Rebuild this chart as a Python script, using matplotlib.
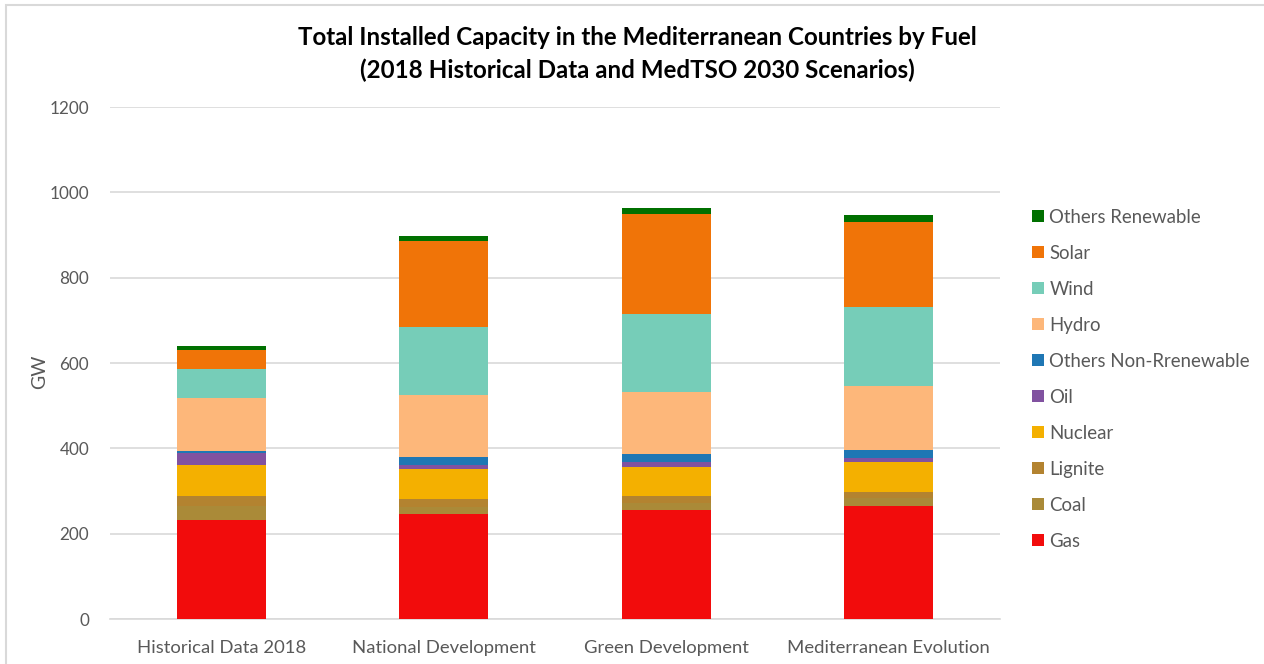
import matplotlib
matplotlib.use("Agg")
import matplotlib.pyplot as plt
from matplotlib.patches import Rectangle
import numpy as np

plt.rcParams['font.family'] = ['Lato', 'DejaVu Sans']

categories = ["Historical Data 2018", "National Development",
              "Green Development", "Mediterranean Evolution"]

# Stacked from the bottom up (GW)
gas = [233, 247, 256, 265]
coal = [33, 16, 16, 18]
lignite = [23, 18, 16, 15]
nuclear = [72, 70, 68, 69]
oil = [27, 9, 11, 10]
others_nonren = [5, 20, 19, 19]
hydro = [125, 145, 145, 150]
wind = [67, 160, 183, 186]
solar = [46, 200, 235, 199]
others_ren = [8, 12, 15, 15]

series = [
    ("Gas", gas, "#F20C0C"),
    ("Coal", coal, "#AA8A38"),
    ("Lignite", lignite, "#B38330"),
    ("Nuclear", nuclear, "#F4B000"),
    ("Oil", oil, "#8152A0"),
    ("Others Non-Rrenewable", others_nonren, "#1F77B4"),
    ("Hydro", hydro, "#FDB77A"),
    ("Wind", wind, "#76CDB8"),
    ("Solar", solar, "#F07408"),
    ("Others Renewable", others_ren, "#007000"),
]

fig = plt.figure(figsize=(12.64, 6.64), dpi=100)
fig.patches.append(Rectangle((6 / 1264, -0.2), 1.5, 1.2 - 5 / 664,
                             transform=fig.transFigure, fill=False,
                             edgecolor="#D9D9D9", linewidth=1.5))

ax = fig.add_axes([110 / 1264, 1 - 619 / 664, 890 / 1264, 512 / 664])
x = np.arange(len(categories))
bottom = np.zeros(len(categories))
handles = []
for name, vals, col in series:
    b = ax.bar(x, vals, width=0.4, bottom=bottom, color=col, label=name,
               edgecolor="none", zorder=3)
    bottom += np.array(vals)
    handles.append(b)

ax.set_xlim(-0.5, 3.5)
ax.set_ylim(0, 1200)
ax.set_yticks(range(0, 1201, 200))
ax.set_xticks(x)
ax.set_xticklabels(categories)
ax.tick_params(axis="both", length=0, colors="#595959")
ax.tick_params(axis="y", pad=15, labelsize=12.3)
ax.tick_params(axis="x", pad=15, labelsize=13.3)
ax.grid(axis="y", color="#D9D9D9", linewidth=1.2, zorder=0)
for s in ["top", "right", "left"]:
    ax.spines[s].set_visible(False)
ax.spines["bottom"].set_color("#D9D9D9")
ax.spines["bottom"].set_linewidth(1.2)

fig.text(40 / 1264, 1 - 372 / 664, "GW", rotation=90, ha="center",
         va="center", color="#595959", fontsize=14)

fig.text(637 / 1264, 1 - 54 / 664,
         "Total Installed Capacity in the Mediterranean Countries by Fuel\n"
         "(2018 Historical Data and MedTSO 2030 Scenarios)",
         ha="center", va="center", fontsize=17.4, fontweight="bold",
         color="black", linespacing=1.45)

leg = fig.legend(handles[::-1], [s[0] for s in series][::-1],
                 loc="upper left", bbox_to_anchor=(1015 / 1264, 1 - 192 / 664),
                 frameon=False, fontsize=13.4, labelcolor="#595959",
                 handlelength=0.65, handleheight=0.65, handletextpad=0.3,
                 labelspacing=1.02)

fig.savefig("out.png", dpi=100, facecolor="white")
